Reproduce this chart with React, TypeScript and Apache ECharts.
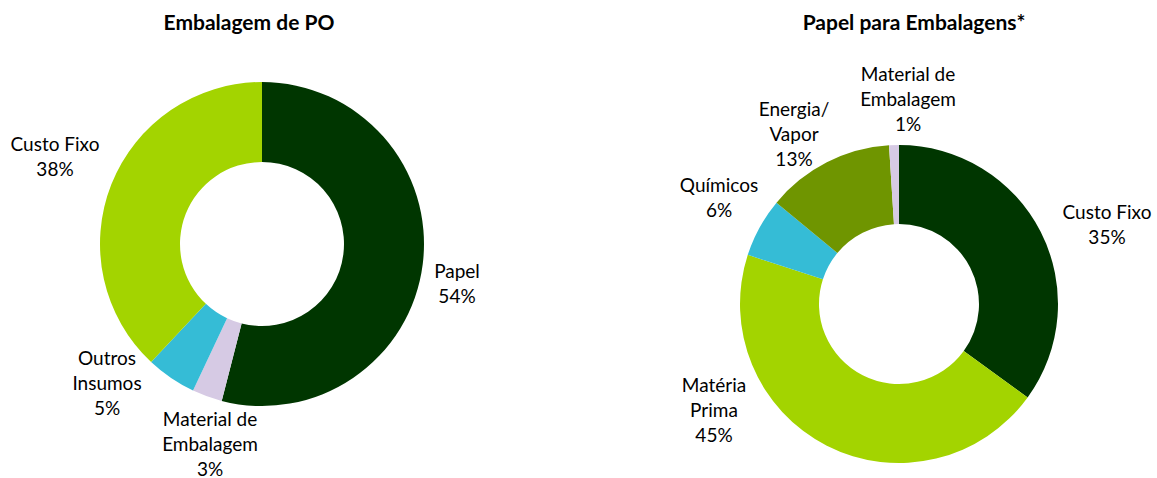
import React, { useEffect, useRef } from "react";
import * as echarts from "echarts";

const leftTitle = "Embalagem de PO";
const leftNames = ["Papel", "Material de\nEmbalagem", "Outros\nInsumos", "Custo Fixo"];
const leftValues = [54, 3, 5, 38];
const leftColors = ["#003600", "#d6cae4", "#35bcd6", "#a3d400"];

const rightTitle = "Papel para Embalagens*";
const rightNames = ["Custo Fixo", "Matéria\nPrima", "Químicos", "Energia/\nVapor", "Material de\nEmbalagem"];
const rightValues = [35, 45, 6, 13, 1];
const rightColors = ["#003600", "#a3d400", "#35bcd6", "#6f9500", "#d6cae4"];

// label anchor positions (style, px)
const leftLabelPos = [
  [457, 283],
  [210, 443],
  [107, 382],
  [55, 156],
];
const rightLabelPos = [
  [1107, 224],
  [714, 409],
  [719, 197],
  [794, 133],
  [908, 98],
];

const FONT = "Lato, 'Open Sans', sans-serif";

export default function App() {
  const ref = useRef<HTMLDivElement>(null);
  useEffect(() => {
    document.body.style.margin = "0";
    const chart = echarts.init(ref.current!, null, { renderer: "svg" });
    const mkSeries = (
      names: string[],
      values: number[],
      colors: string[],
      center: [number, number],
      radius: [number, number],
      pos: number[][]
    ) => ({
      type: "pie",
      center,
      radius,
      startAngle: 90,
      clockwise: true,
      avoidLabelOverlap: false,
      silent: true,
      data: names.map((n, i) => ({ name: n, value: values[i], itemStyle: { color: colors[i] } })),
      itemStyle: { borderWidth: 0 },
      label: {
        show: true,
        position: "outside",
        formatter: (p: any) => `${p.name}\n${p.value}%`,
        color: "#000",
        fontFamily: FONT,
        fontSize: 19,
        lineHeight: 25,
        align: "center",
      },
      labelLine: { show: false },
      labelLayout: (p: any) => ({
        x: pos[p.dataIndex][0],
        y: pos[p.dataIndex][1],
        align: "center",
        verticalAlign: "middle",
      }),
    });
    chart.setOption({
      animation: false,
      backgroundColor: "#fff",
      title: [
        {
          text: leftTitle,
          left: 244,
          top: 6,
          textAlign: "center",
          textStyle: { fontFamily: FONT, fontWeight: "bold", fontSize: 21, color: "#000" },
        },
        {
          text: rightTitle,
          left: 909,
          top: 6,
          textAlign: "center",
          textStyle: { fontFamily: FONT, fontWeight: "bold", fontSize: 21, color: "#000" },
        },
      ],
      series: [
        mkSeries(leftNames, leftValues, leftColors, [262, 244], [82, 162], leftLabelPos),
        mkSeries(rightNames, rightValues, rightColors, [899, 304], [80, 159], rightLabelPos),
      ],
    });
    return () => chart.dispose();
  }, []);
  return <div ref={ref} style={{ width: 1157, height: 478 }} />;
}
